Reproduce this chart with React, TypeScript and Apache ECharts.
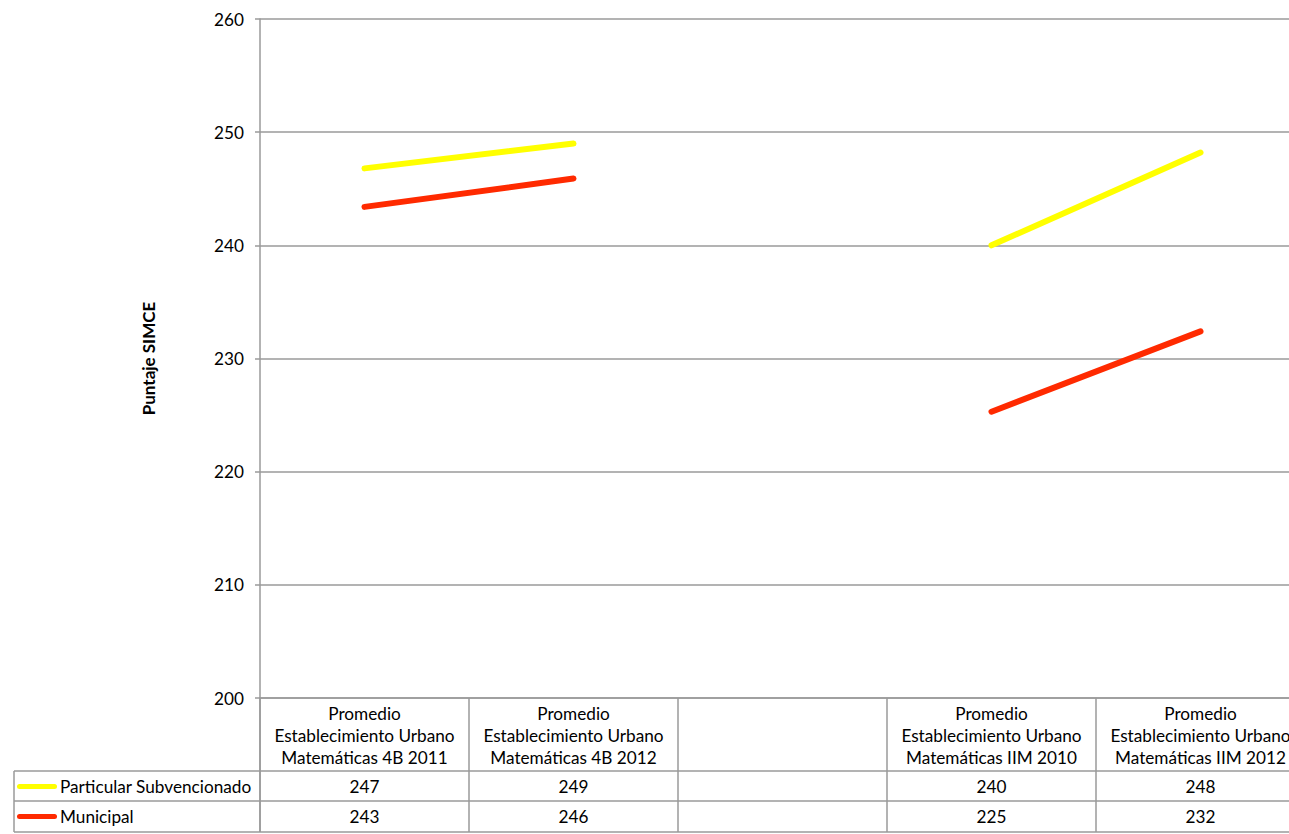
import React, { useEffect, useRef } from "react";
import * as echarts from "echarts";

const categories = [
  "Promedio\nEstablecimiento Urbano\nMatemáticas 4B 2011",
  "Promedio\nEstablecimiento Urbano\nMatemáticas 4B 2012",
  "",
  "Promedio\nEstablecimiento Urbano\nMatemáticas IIM 2010",
  "Promedio\nEstablecimiento Urbano\nMatemáticas IIM 2012",
];
const seriesNames = ["Particular Subvencionado", "Municipal"];
const particular = [246.8, 249.0, null, 240.0, 248.2];
const municipal = [243.4, 245.9, null, 225.3, 232.4];
const yTicks = { min: 200, max: 260, interval: 10 };
const yName = "Puntaje SIMCE";

const FONT = "Lato, 'Open Sans', sans-serif";
const FS = 17.2;
const GRID_LEFT = 260;
const GRID_TOP = 19;
const GRID_H = 679;
const GRID_W = 1045;
const BOTTOM = GRID_TOP + GRID_H;
const ROW1 = 771;
const ROW2 = 801;
const ROW3 = 832;
const LINE_GRAY = "#9a9a9a";

const fmt = (v: number | null) => (v == null ? "" : String(Math.round(v)));

export default function App() {
  const ref = useRef<HTMLDivElement>(null);
  useEffect(() => {
    if (!ref.current) return;
    const chart = echarts.init(ref.current, undefined, { renderer: "svg" });
    const rows = [particular, municipal];
    const colors = ["#FFFF00", "#FF2A00"];
    const valueAxis = (i: number, offset: number) => ({
      type: "category",
      gridIndex: 0,
      position: "bottom",
      offset,
      data: categories,
      boundaryGap: true,
      axisLine: { show: false },
      axisTick: { show: false },
      axisLabel: {
        interval: 0,
        margin: 7,
        fontSize: FS,
        fontFamily: FONT,
        color: "#000",
        formatter: (_v: string, idx: number) => fmt(rows[i][idx]),
      },
    });
    chart.setOption({
      animation: false,
      backgroundColor: "#fff",
      textStyle: { fontFamily: FONT },
      grid: { left: GRID_LEFT, top: GRID_TOP, width: GRID_W, height: GRID_H, containLabel: false },
      legend: seriesNames.map((n, i) => ({
        data: [n],
        left: 14,
        top: (i === 0 ? ROW1 : ROW2) + 7,
        padding: [0, 0, 0, 3],
        itemWidth: 40,
        itemHeight: 5,
        itemGap: 0,
        icon: "path://M2.5,0 H37.5 A2.5,2.5 0 0 1 37.5,5 H2.5 A2.5,2.5 0 0 1 2.5,0 Z",
        selectedMode: false,
        textStyle: { fontSize: FS, fontFamily: FONT, color: "#000", padding: [0, 0, 0, -2] },
      })),
      xAxis: [
        {
          type: "category",
          data: categories,
          boundaryGap: true,
          axisLine: { show: true, lineStyle: { color: LINE_GRAY, width: 1.5 } },
          axisTick: { show: true, length: ROW3 - BOTTOM, lineStyle: { color: LINE_GRAY, width: 1.5 } },
          axisLabel: {
            interval: 0,
            margin: 4,
            fontSize: FS,
            lineHeight: 22,
            fontFamily: FONT,
            color: "#000",
          },
        },
        valueAxis(0, ROW1 - BOTTOM),
        valueAxis(1, ROW2 - BOTTOM),
      ],
      yAxis: {
        type: "value",
        min: yTicks.min,
        max: yTicks.max,
        interval: yTicks.interval,
        name: yName,
        nameLocation: "middle",
        nameGap: 103,
        nameRotate: 90,
        nameTextStyle: { fontSize: 17, fontWeight: "bold", fontFamily: FONT, color: "#000" },
        axisLine: { show: true, lineStyle: { color: LINE_GRAY, width: 1.5 } },
        axisTick: { show: true, length: 5, lineStyle: { color: LINE_GRAY, width: 1.5 } },
        axisLabel: { margin: 16, fontSize: FS, fontFamily: FONT, color: "#000" },
        splitLine: { show: true, lineStyle: { color: LINE_GRAY, width: 1.5 } },
      },
      graphic: [
        ...[ROW1, ROW2, ROW3].map((y) => ({
          type: "line",
          shape: { x1: 14, y1: y, x2: GRID_LEFT + GRID_W + 10, y2: y },
          style: { stroke: LINE_GRAY, lineWidth: 1.5 },
          z: 10,
        })),
        {
          type: "line",
          shape: { x1: 14, y1: ROW1, x2: 14, y2: ROW3 },
          style: { stroke: LINE_GRAY, lineWidth: 1.5 },
          z: 10,
        },
        {
          type: "line",
          shape: { x1: GRID_LEFT, y1: BOTTOM, x2: GRID_LEFT, y2: ROW3 },
          style: { stroke: LINE_GRAY, lineWidth: 1.5 },
          z: 10,
        },
      ],
      series: [particular, municipal].map((d, i) => ({
        name: seriesNames[i],
        type: "line",
        data: d,
        xAxisIndex: 0,
        showSymbol: false,
        symbol: "none",
        connectNulls: false,
        color: colors[i],
        lineStyle: { width: 6, color: colors[i], cap: "round" },
      })),
    });
    return () => chart.dispose();
  }, []);
  return (
    <div style={{ position: "fixed", left: 0, top: 0, width: 1289, height: 834, overflow: "hidden", background: "#fff" }}>
      <div ref={ref} style={{ width: 1320, height: 834 }} />
    </div>
  );
}
